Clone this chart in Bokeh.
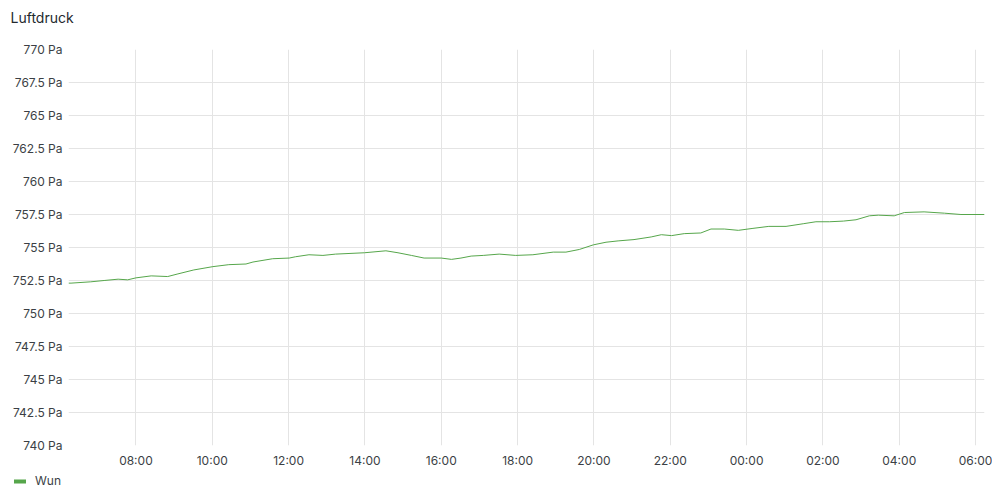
import pandas as pd
from bokeh.plotting import figure
from bokeh.layouts import column
from bokeh.models import (Range1d, SingleIntervalTicker, DatetimeTickFormatter,
                          CustomJSTickFormatter, Legend, LegendItem, Label)
from bokeh.embed import file_html
from bokeh.resources import INLINE

title_text = "Luftdruck"
series_name = "Wun"

times = [
    "2024-05-01 06:14", "2024-05-01 06:18", "2024-05-01 06:49", "2024-05-01 07:10",
    "2024-05-01 07:32", "2024-05-01 07:47", "2024-05-01 08:00", "2024-05-01 08:24",
    "2024-05-01 08:50", "2024-05-01 09:06", "2024-05-01 09:31", "2024-05-01 10:01",
    "2024-05-01 10:26", "2024-05-01 10:53", "2024-05-01 11:04", "2024-05-01 11:35",
    "2024-05-01 12:01", "2024-05-01 12:11", "2024-05-01 12:32", "2024-05-01 12:54",
    "2024-05-01 13:14", "2024-05-01 13:59", "2024-05-01 14:33", "2024-05-01 14:52",
    "2024-05-01 15:13", "2024-05-01 15:33", "2024-05-01 16:00", "2024-05-01 16:16",
    "2024-05-01 16:31", "2024-05-01 16:47", "2024-05-01 17:06", "2024-05-01 17:31",
    "2024-05-01 17:57", "2024-05-01 18:24", "2024-05-01 18:56", "2024-05-01 19:16",
    "2024-05-01 19:37", "2024-05-01 19:59", "2024-05-01 20:19", "2024-05-01 20:38",
    "2024-05-01 21:03", "2024-05-01 21:30", "2024-05-01 21:46", "2024-05-01 22:02",
    "2024-05-01 22:22", "2024-05-01 22:48", "2024-05-01 23:04", "2024-05-01 23:25",
    "2024-05-01 23:47", "2024-05-02 00:10", "2024-05-02 00:35", "2024-05-02 01:02",
    "2024-05-02 01:29", "2024-05-02 01:49", "2024-05-02 02:10", "2024-05-02 02:32",
    "2024-05-02 02:52", "2024-05-02 03:13", "2024-05-02 03:27", "2024-05-02 03:52",
    "2024-05-02 04:08", "2024-05-02 04:39", "2024-05-02 05:11", "2024-05-02 05:37",
    "2024-05-02 06:14",
]
pressure = [
    752.3, 752.3, 752.4, 752.5,
    752.6, 752.55, 752.7, 752.85,
    752.8, 753.0, 753.3, 753.55,
    753.7, 753.75, 753.9, 754.15,
    754.2, 754.3, 754.45, 754.4,
    754.5, 754.6, 754.75, 754.6,
    754.4, 754.2, 754.2, 754.1,
    754.2, 754.35, 754.4, 754.5,
    754.4, 754.45, 754.65, 754.65,
    754.85, 755.2, 755.4, 755.5,
    755.6, 755.8, 755.97, 755.9,
    756.05, 756.1, 756.4, 756.4,
    756.3, 756.45, 756.6, 756.6,
    756.8, 756.95, 756.95, 757.0,
    757.1, 757.4, 757.45, 757.4,
    757.65, 757.7, 757.6, 757.5,
    757.5,
]
y_min, y_max, y_step = 740, 770, 2.5
x_start = "2024-05-01 06:14"
x_end = "2024-05-02 06:14"

t = pd.to_datetime(times)
FONT = "Inter"
TEXT = "#3b3f45"
GREEN = "#56A64B"
W = 992


def strip(height):
    s = figure(width=W, height=height, output_backend="svg", toolbar_location=None,
               x_axis_location=None, y_axis_location=None,
               x_range=Range1d(0, W), y_range=Range1d(0, height), min_border=0)
    s.outline_line_color = None
    s.xgrid.visible = False
    s.ygrid.visible = False
    s.background_fill_color = "white"
    s.border_fill_color = "white"
    s.frame_align = False
    return s


# title strip
top = strip(30)
top.add_layout(Label(x=10, y=13, text=title_text, text_font=FONT,
                     text_font_size="14px", text_color="#24292e",
                     text_baseline="middle", text_align="left"))

# main chart
p = figure(width=W, height=440, x_axis_type="datetime",
           output_backend="svg", toolbar_location=None,
           x_range=Range1d(pd.Timestamp(x_start), pd.Timestamp(x_end)),
           y_range=Range1d(y_min, y_max),
           min_border_left=68, min_border_right=8,
           min_border_top=19, min_border_bottom=24)
p.frame_align = False
p.outline_line_color = None
p.background_fill_color = "white"
p.border_fill_color = "white"

p.line(t, pressure, line_color=GREEN, line_width=1)

for ax in (p.xaxis, p.yaxis):
    ax.axis_line_color = None
    ax.major_tick_line_color = None
    ax.minor_tick_line_color = None
    ax.major_tick_out = 0
    ax.major_tick_in = 0
    ax.minor_tick_out = 0
    ax.major_label_text_font = FONT
    ax.major_label_text_font_size = "12px"
    ax.major_label_text_color = TEXT

p.xaxis.ticker = SingleIntervalTicker(interval=2 * 3600 * 1000)
fmt = "%H:%M"
p.xaxis.formatter = DatetimeTickFormatter(hours=fmt, days=fmt, minutes=fmt,
                                          hourmin=fmt, minsec=fmt, seconds=fmt,
                                          months=fmt, years=fmt)
p.xaxis.major_label_standoff = 7

p.yaxis.ticker = SingleIntervalTicker(interval=y_step)
p.yaxis.formatter = CustomJSTickFormatter(code="return tick + ' Pa'")
p.yaxis.major_label_standoff = 6

p.xgrid.grid_line_color = "#e4e4e4"
p.ygrid.grid_line_color = "#e4e4e4"
p.xgrid.ticker = p.xaxis.ticker
p.ygrid.ticker = p.yaxis.ticker

# legend strip (series drawn off-range only to give the swatch its style)
lg = strip(22)
swatch = lg.line(t, pressure, line_color=GREEN, line_width=4, line_cap="round")
legend = Legend(items=[LegendItem(label=series_name, renderers=[swatch])],
                location=(14, 4), padding=0, margin=0,
                border_line_color=None, background_fill_alpha=0,
                glyph_width=12, glyph_height=14, label_standoff=9,
                label_text_font=FONT, label_text_font_size="12px",
                label_text_color=TEXT)
lg.add_layout(legend, "center")

layout = column(top, p, lg, spacing=0)
open("out.html", "w").write(file_html(layout, INLINE))
